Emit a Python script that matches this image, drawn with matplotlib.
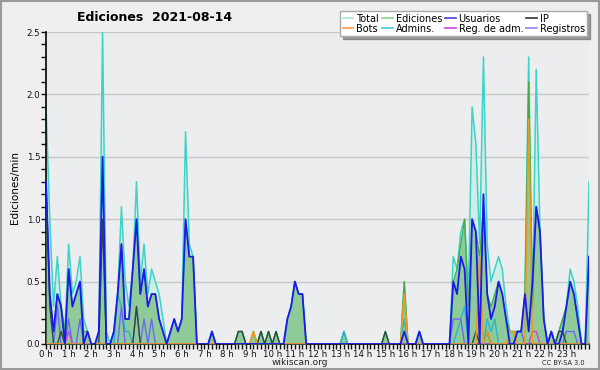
import numpy as np
import matplotlib
matplotlib.use("Agg")
import matplotlib.pyplot as plt
from matplotlib.lines import Line2D
from matplotlib.patches import Rectangle

# one value every 10 minutes, 0h00 .. 24h00 (edits per minute)
total = [
    1.9, 1.0, 0.3, 0.7, 0.3, 0.1,   # 0 h
    0.8, 0.4, 0.5, 0.7, 0.2, 0.1,   # 1 h
    0.0, 0.0, 0.1, 2.5, 0.1, 0.0,   # 2 h
    0.1, 0.4, 1.1, 0.5, 0.3, 0.6,   # 3 h
    1.3, 0.5, 0.8, 0.4, 0.6, 0.5,   # 4 h
    0.4, 0.2, 0.0, 0.1, 0.2, 0.1,   # 5 h
    0.2, 1.7, 0.8, 0.7, 0.0, 0.0,   # 6 h
    0.0, 0.0, 0.1, 0.0, 0.0, 0.0,   # 7 h
    0.0, 0.0, 0.0, 0.1, 0.1, 0.0,   # 8 h
    0.0, 0.1, 0.0, 0.1, 0.0, 0.1,   # 9 h
    0.0, 0.1, 0.0, 0.0, 0.2, 0.3,   # 10 h
    0.5, 0.4, 0.4, 0.0, 0.0, 0.0,   # 11 h
    0.0, 0.0, 0.0, 0.0, 0.0, 0.0,   # 12 h
    0.0, 0.1, 0.0, 0.0, 0.0, 0.0,   # 13 h
    0.0, 0.0, 0.0, 0.0, 0.0, 0.0,   # 14 h
    0.1, 0.0, 0.0, 0.0, 0.0, 0.5,   # 15 h
    0.0, 0.0, 0.0, 0.1, 0.0, 0.0,   # 16 h
    0.0, 0.0, 0.0, 0.0, 0.0, 0.0,   # 17 h
    0.7, 0.6, 0.9, 1.0, 0.4, 1.9,   # 18 h
    1.6, 0.8, 2.3, 0.8, 0.5, 0.6,   # 19 h
    0.7, 0.6, 0.3, 0.1, 0.1, 0.1,   # 20 h
    0.1, 0.4, 2.3, 0.3, 2.2, 0.9,   # 21 h
    0.2, 0.0, 0.1, 0.0, 0.1, 0.2,   # 22 h
    0.3, 0.6, 0.5, 0.3, 0.0, 0.0,   # 23 h
    1.3,
]

ediciones = [
    1.3, 0.4, 0.1, 0.4, 0.3, 0.1,
    0.6, 0.3, 0.4, 0.5, 0.1, 0.1,
    0.0, 0.0, 0.1, 1.0, 0.0, 0.0,
    0.1, 0.4, 0.8, 0.2, 0.2, 0.6,
    1.0, 0.4, 0.6, 0.3, 0.4, 0.4,
    0.2, 0.1, 0.0, 0.1, 0.2, 0.1,
    0.2, 1.0, 0.7, 0.7, 0.0, 0.0,
    0.0, 0.0, 0.1, 0.0, 0.0, 0.0,
    0.0, 0.0, 0.0, 0.1, 0.1, 0.0,
    0.0, 0.1, 0.0, 0.1, 0.0, 0.1,
    0.0, 0.1, 0.0, 0.0, 0.2, 0.3,
    0.5, 0.4, 0.4, 0.0, 0.0, 0.0,
    0.0, 0.0, 0.0, 0.0, 0.0, 0.0,
    0.0, 0.1, 0.0, 0.0, 0.0, 0.0,
    0.0, 0.0, 0.0, 0.0, 0.0, 0.0,
    0.1, 0.0, 0.0, 0.0, 0.0, 0.5,
    0.0, 0.0, 0.0, 0.1, 0.0, 0.0,
    0.0, 0.0, 0.0, 0.0, 0.0, 0.0,
    0.5, 0.6, 0.8, 1.0, 0.3, 1.0,
    0.9, 0.7, 1.1, 0.4, 0.3, 0.4,
    0.5, 0.4, 0.2, 0.1, 0.1, 0.1,
    0.1, 0.4, 2.1, 0.3, 1.1, 0.9,
    0.2, 0.0, 0.1, 0.0, 0.1, 0.2,
    0.3, 0.5, 0.4, 0.2, 0.0, 0.0,
    0.7,
]

usuarios = [
    1.3, 0.4, 0.1, 0.4, 0.3, 0.0,
    0.6, 0.3, 0.4, 0.5, 0.0, 0.1,
    0.0, 0.0, 0.1, 1.5, 0.0, 0.0,
    0.1, 0.4, 0.8, 0.2, 0.2, 0.6,
    1.0, 0.4, 0.6, 0.3, 0.4, 0.4,
    0.2, 0.1, 0.0, 0.1, 0.2, 0.1,
    0.2, 1.0, 0.7, 0.7, 0.0, 0.0,
    0.0, 0.0, 0.1, 0.0, 0.0, 0.0,
    0.0, 0.0, 0.0, 0.0, 0.0, 0.0,
    0.0, 0.0, 0.0, 0.0, 0.0, 0.0,
    0.0, 0.0, 0.0, 0.0, 0.2, 0.3,
    0.5, 0.4, 0.4, 0.0, 0.0, 0.0,
    0.0, 0.0, 0.0, 0.0, 0.0, 0.0,
    0.0, 0.0, 0.0, 0.0, 0.0, 0.0,
    0.0, 0.0, 0.0, 0.0, 0.0, 0.0,
    0.0, 0.0, 0.0, 0.0, 0.0, 0.1,
    0.0, 0.0, 0.0, 0.1, 0.0, 0.0,
    0.0, 0.0, 0.0, 0.0, 0.0, 0.0,
    0.5, 0.4, 0.7, 0.6, 0.0, 1.0,
    0.9, 0.0, 1.2, 0.4, 0.2, 0.3,
    0.5, 0.4, 0.2, 0.0, 0.0, 0.1,
    0.1, 0.4, 0.1, 0.5, 1.1, 0.9,
    0.2, 0.0, 0.1, 0.0, 0.0, 0.1,
    0.3, 0.5, 0.4, 0.2, 0.0, 0.0,
    0.7,
]

# sparse series: {slot index: value}
ip = {0: 1.3, 1: 0.3, 4: 0.1, 15: 1.0, 24: 0.3, 51: 0.1, 52: 0.1, 57: 0.1,
      59: 0.1, 61: 0.1, 90: 0.1, 114: 0.1, 117: 0.1, 136: 0.1, 137: 0.1}
bots = {55: 0.1, 95: 0.4, 115: 0.7, 117: 0.1, 123: 0.1, 124: 0.1, 128: 1.8}
admins = {19: 0.4, 20: 0.3, 21: 0.1, 22: 0.1, 79: 0.1, 95: 0.2, 109: 0.1,
          110: 0.2, 111: 0.3, 117: 0.2, 118: 0.1, 119: 0.2}
reg_adm = {6: 0.1, 129: 0.1, 130: 0.1}
registros = {3: 0.3, 6: 0.2, 9: 0.2, 20: 0.3, 24: 0.3, 26: 0.2, 28: 0.2,
             108: 0.2, 109: 0.2, 110: 0.2, 125: 0.1, 126: 0.1, 138: 0.1,
             139: 0.1, 140: 0.1}

hour_labels = [f"{h} h" for h in range(24)]


def expand(d, n):
    arr = np.zeros(n)
    for k, v in d.items():
        arr[k] = v
    return arr


n = len(total)
x = np.arange(n)

fig = plt.figure(figsize=(6, 3.7), dpi=100, facecolor='#efefef')
fig.patches.append(Rectangle((0.002, 0.003), 0.996, 0.994, transform=fig.transFigure,
                             fill=False, edgecolor='#9a9a9a', lw=1.5))
ax = fig.add_axes([0.0767, 0.0703, 0.905, 0.8432])
ax.set_facecolor('#ecedef')

ax.fill_between(x, total, color='#c8ece6', alpha=0.7, lw=0, zorder=1)
ax.plot(x, total, color='#3dd3c6', lw=1.1, zorder=2)
ax.fill_between(x, ediciones, color='#72bd78', alpha=0.7, lw=0, zorder=3)
ax.plot(x, ediciones, color='#44aa44', lw=0.9, zorder=3)
ax.plot(x, expand(admins, n), color='#22b8d8', lw=1.0, zorder=4)
ax.plot(x, expand(registros, n), color='#6a6af0', lw=1.0, zorder=4)
ax.plot(x, expand(ip, n), color='#2e4a3a', lw=1.0, zorder=5)
ax.plot(x, expand(reg_adm, n), color='#cc44dd', lw=1.0, zorder=5)
ax.plot(x, expand(bots, n), color='#f39a1a', lw=1.1, zorder=6)
ax.plot(x, usuarios, color='#1a1aee', lw=1.3, zorder=7)

ax.set_xlim(0, 144)
ax.set_ylim(0, 2.5)
ax.set_xticks(np.arange(0, 144, 6))
ax.set_xticklabels(hour_labels)
ax.set_xticks(np.arange(0, 145, 1), minor=True)
ax.set_yticks(np.arange(0, 2.51, 0.5))
ax.set_yticklabels([f"{v:.1f}" for v in np.arange(0, 2.51, 0.5)])
ax.set_yticks(np.arange(0, 2.51, 0.1), minor=True)
ax.tick_params(axis='both', which='both', labelsize=6.2, colors='#111111',
               length=3.5, width=1, pad=0.5)
ax.grid(axis='y', color='#c8c8c8', lw=1, zorder=0)
ax.set_axisbelow(True)
for s in ('top', 'right'):
    ax.spines[s].set_visible(False)
ax.spines['left'].set_linewidth(1.2)
ax.spines['bottom'].set_linewidth(1.2)
ax.set_ylabel('Ediciones/min', fontsize=7.5, labelpad=5)

fig.text(0.258, 0.952, 'Ediciones  2021-08-14', fontsize=9, fontweight='bold',
         ha='center', va='center')
fig.text(0.5, 0.02, 'wikiscan.org', fontsize=6.5, ha='center', va='center', color='#222222')
fig.text(0.975, 0.02, 'CC BY-SA 3.0', fontsize=4.8, ha='right', va='center', color='#222222')

names = ['Total', 'Bots', 'Ediciones', 'Admins.', 'Usuarios', 'Reg. de adm.', 'IP', 'Registros']
colors = ['#a8e4de', '#f7a040', '#8fd08f', '#40c8d8', '#4444dd', '#cc44dd', '#333333', '#8888ee']
handles = [Line2D([], [], color=c, lw=1.2) for c in colors]
leg = fig.legend(handles, names, ncol=4, loc='upper right', bbox_to_anchor=(0.982, 0.975),
                 fontsize=7, frameon=True, fancybox=False, shadow=True,
                 handlelength=1.1, handletextpad=0.3, columnspacing=0.3,
                 labelspacing=0.0, borderpad=0.25, borderaxespad=0.2)
leg.get_frame().set_edgecolor('#aaaaaa')
leg.get_frame().set_facecolor('white')

fig.savefig('out.png', dpi=100, facecolor=fig.get_facecolor())
